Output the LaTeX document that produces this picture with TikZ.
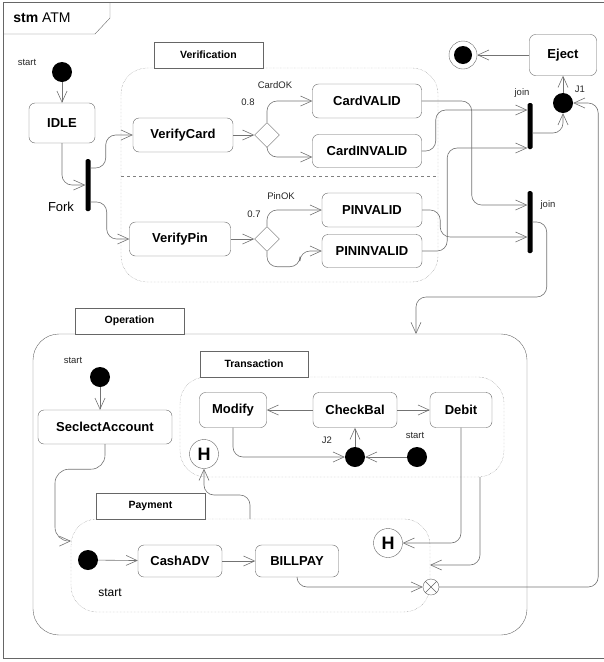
\documentclass[tikz,border=0pt]{standalone}
\usepackage{fontspec}
\setmainfont{Liberation Sans}
\usetikzlibrary{arrows.meta,shapes.geometric}

\begin{document}
\begin{tikzpicture}[x=1pt,y=-1pt,
	state/.style={draw=black!60, rounded corners=6pt, fill=white, font=\bfseries\fontsize{13}{15}\selectfont, minimum height=34pt, inner sep=2pt},
	init/.style={circle, fill=black, minimum size=20pt, inner sep=0pt},
	bar/.style={fill=black, rounded corners=1.5pt, minimum width=5pt, inner sep=0pt},
	choice/.style={draw=black!60, diamond, aspect=1, minimum size=25pt, inner sep=0pt, fill=white},
	hist/.style={draw=black!60, circle, minimum size=29pt, inner sep=0pt, fill=white, font=\bfseries\fontsize{18}{20}\selectfont},
	lbl/.style={font=\fontsize{9.5}{11}\selectfont, text=black!85},
	tabtext/.style={font=\bfseries\fontsize{10.5}{12}\selectfont},
	flow/.style={draw=black!55, line width=0.6pt, rounded corners=10pt, -{Straight Barb[length=11pt,width=10pt]}}]
				%
				\useasboundingbox (0,0) rectangle (604,662);
				%
				% macro: region corners, tab from-to, tab label, line style
				\newcommand{\stmregion}[8]{
				  \draw[#8, rounded corners=26pt] (#1,#2) rectangle (#3,#4);
				  \draw[draw=black!60, fill=white] (#5,#2) rectangle (#6,#2-26);
				  \node[tabtext] at ({(#5+#6)/2},#2-13) {#7};
				}
				%
				% frame
				\draw[black!60] (606,2) -- (3,2) -- (3,658) -- (606,658);
				\draw[black!60] (3,34) -- (95,34) -- (110,18) -- (110,2);
				\node[font=\fontsize{14}{16}\selectfont] (title) at (42,18) {\textbf{stm} ATM};
				%
				\stmregion{121}{68}{438}{282}{154}{263}{Verification}{draw=black!50, densely dotted}
				\draw[black!50, dashed] (121,176) -- (438,176);
				\stmregion{33}{334}{527}{635}{75}{184}{Operation}{draw=black!60}
				\stmregion{180}{377}{504}{477}{200}{308}{Transaction}{draw=black!50, densely dotted}
				\stmregion{71}{519}{430}{612}{96}{205}{Payment}{draw=black!50, densely dotted}
				%
				% top level
				\node[init] (start) at (62,72) {};
				\node[lbl] (lstart) at (27,62) {start};
				\node[state, minimum width=66pt, minimum height=40pt] (IDLE) at (62,123) {IDLE};
				\node[bar, minimum height=52pt] (Fork) at (88,185) {};
				\node[font=\fontsize{13}{15}\selectfont] (lfork) at (61,207) {Fork};
				\node[state, minimum width=100pt] (VerifyCard) at (183,135) {VerifyCard};
				\node[state, minimum width=101pt] (VerifyPin) at (180,239) {VerifyPin};
				\node[choice] (dCard) at (267,135) {};
				\node[choice] (dPin) at (267,239) {};
				\node[lbl] (lcardok) at (275,85) {CardOK};
				\node[lbl] (lcardp) at (248,102) {0.8};
				\node[lbl] (lpinok) at (281,196) {PinOK};
				\node[lbl] (lpinp) at (254,214) {0.7};
				\node[state, minimum width=109pt] (CardVALID) at (367,101) {CardVALID};
				\node[state, minimum width=109pt, minimum height=33pt] (CardINVALID) at (367,151) {CardINVALID};
				\node[state, minimum width=100pt] (PINVALID) at (372,210) {PINVALID};
				\node[state, minimum width=100pt, minimum height=33pt] (PININVALID) at (372,251) {PININVALID};
				\node[bar, minimum height=46pt] (join1) at (530,126) {};
				\node[bar, minimum height=62pt] (join2) at (530,222) {};
				\node[lbl] (ljoin1) at (522,93) {join};
				\node[lbl] (ljoin2) at (548,205) {join};
				\node[init] (J1) at (563,103) {};
				\node[lbl] (lJ1) at (580,89) {J1};
				\node[state, minimum width=67pt, minimum height=41pt] (Eject) at (563,55) {Eject};
				\node[draw=black!60, circle, minimum size=28pt, inner sep=0pt] (final) at (463,55) {};
				\fill (final) circle (9);
				%
				% operation
				\node[init] (opStart) at (100,377) {};
				\node[lbl] (lopstart) at (73,360) {start};
				\node[state, minimum width=134pt] (SelAcct) at (105,427) {SeclectAccount};
				\node[state, minimum width=67pt, minimum height=35pt] (Modify) at (233,410) {Modify};
				\node[state, minimum width=84pt, minimum height=35pt] (CheckBal) at (355,410) {CheckBal};
				\node[state, minimum width=62pt, minimum height=35pt] (Debit) at (461,410) {Debit};
				\node[init] (J2) at (355,457) {};
				\node[lbl] (lJ2) at (327,440) {J2};
				\node[init] (tStart) at (417,457) {};
				\node[lbl] (ltstart) at (415,435) {start};
				\node[hist] (Hist1) at (204,454) {H};
				\node[init] (pStart) at (88,560) {};
				\node[font=\fontsize{12}{14}\selectfont] (lpstart) at (110,593) {start};
				\node[state, minimum width=84pt, minimum height=32pt] (CashADV) at (180,561) {CashADV};
				\node[state, minimum width=83pt, minimum height=32pt] (BILLPAY) at (297,561) {BILLPAY};
				\node[hist] (Hist2) at (388,543) {H};
				\node[draw=black!60, circle, minimum size=16pt, inner sep=0pt, fill=white] (Exit) at (431,587) {};
				\draw[black!60] (Exit.45) -- (Exit.225) (Exit.135) -- (Exit.315);
				%
				\coordinate (opIn) at (416,334);
				\coordinate (payIn) at (71,541);
				\coordinate (payTop) at (250,519);
				\coordinate (payR) at (430,565);
				\coordinate (trOut) at (480,477);
				%
				% transitions
				\draw[flow] (start) -- (IDLE);
				\draw[flow] (IDLE.south) |- (Fork.west);
				\draw[flow] ([yshift=17pt]Fork.east) -- ++(15,0) |- (VerifyCard);
				\draw[flow] ([yshift=-17pt]Fork.east) -- ++(16,0) |- (VerifyPin);
				\draw[flow] (VerifyCard) -- (dCard);
				\draw[flow] (VerifyPin) -- (dPin);
				\draw[flow] (dCard.north) |- (CardVALID.west);
				\draw[flow] (dCard.south) |- ([yshift=-6pt]CardINVALID.west);
				\draw[flow] (dPin.north) |- (PINVALID.west);
				\draw[flow] (dPin.south) |- ++(33,15) |- (PININVALID.west);
				\draw[flow] (CardVALID.east) -- ++(50,0) |- ([yshift=17pt]join2.west);
				\draw[flow] (CardINVALID.east) -- ++(14,0) |- ([yshift=16pt]join1.west);
				\draw[flow] (PINVALID.east) -- ++(18,0) |- ([yshift=-15pt]join2.west);
				\draw[flow] (PININVALID.east) -- ++(25,0) |- ([yshift=-22pt]join1.west);
				\draw[flow] ([yshift=-7pt]join1.east) -| (J1.south);
				\draw[flow] (J1) -- (Eject);
				\draw[flow] (Eject) -- (final);
				\draw[flow] (join2.east) -| ++(14,75) -| (opIn);
				\draw[flow] (Exit.east) -| ([xshift=25pt]J1.east) -- (J1.east);
				%
				\draw[flow] (opStart) -- (opStart |- SelAcct.north);
				\draw[flow, rounded corners=14pt] (SelAcct.south) -- ++(0,25) -| ++(-50,72) -- (payIn);
				\draw[flow] (pStart) -- (CashADV);
				\draw[flow] (CashADV) -- (BILLPAY);
				\draw[flow] (BILLPAY.south) |- (Exit.west);
				\draw[flow] (payTop) -- ++(0,-24) -| (Hist1.south);
				\draw[flow] (Debit.south) |- (Hist2.east);
				\draw[flow] (trOut) |- (payR);
				\draw[flow] (CheckBal) -- (Modify);
				\draw[flow] (CheckBal) -- (Debit);
				\draw[flow] (J2) -- (CheckBal);
				\draw[flow] (Modify.south) |- (J2.west);
				\draw[flow] (tStart) -- (J2);
\end{tikzpicture}
\end{document}
